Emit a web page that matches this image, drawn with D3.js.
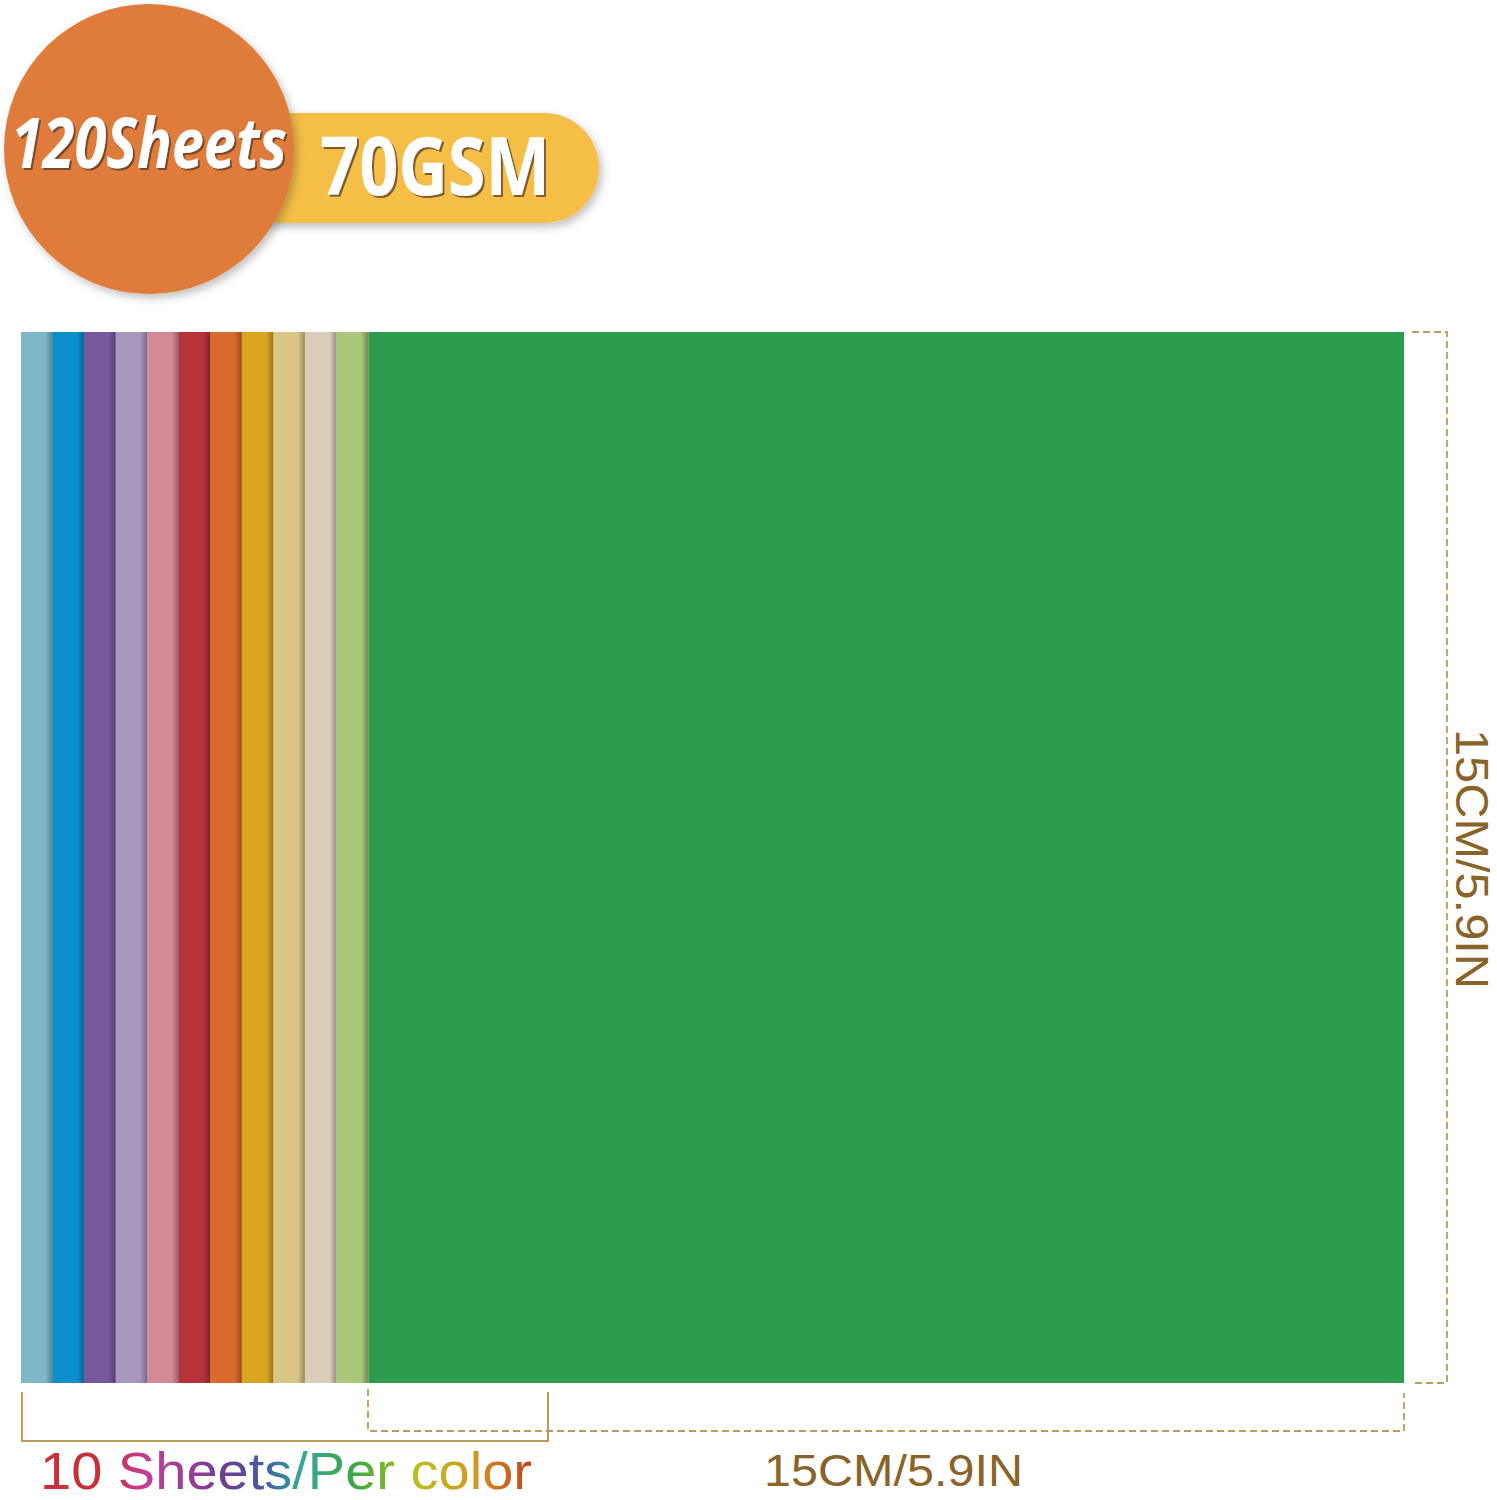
<!DOCTYPE html>
<html lang="en">
<head>
<meta charset="utf-8">
<title>120 Sheets 70GSM</title>
<script src="https://cdn.jsdelivr.net/npm/d3@7"></script>
<style>
  html, body { margin: 0; padding: 0; background: #fff; }
  svg { display: block; }
</style>
</head>
<body>
<div class="chart"></div>
<script>
// sheet colours, back (left) to front (right); the last one is the full sheet
const sheetColors = ["#7fb6c8", "#0a8fcc", "#77589f", "#a698bd", "#d48a95", "#b83339",
                     "#d96b2e", "#d9a523", "#d9c585", "#dbcdb9", "#aac77b", "#2e9c4f"];
const sheetSizeCm = [15, 15];          // width, height
const sizeLabel = "15CM/5.9IN";
const totalLabel = "120Sheets";
const weightLabel = "70GSM";
const perColorLabel = "10 Sheets/Per color";
const perColorStops = ["#c8303a", "#c8303a", "#c43c96", "#6c3f92", "#3f5fa0", "#3aa79b", "#3ca842", "#b9c11f", "#d09a22", "#c4401f"];
const perColorOffsets = [0, 0.12, 0.22, 0.38, 0.46, 0.53, 0.64, 0.76, 0.88, 1];

const W = 1497, H = 1500;
const gold = "#b89c5a", brown = "#8a6329";

const svg = d3.select(".chart").append("svg")
    .attr("width", W)
    .attr("height", H)
    .attr("viewBox", [0, 0, W, H]);

const defs = svg.append("defs");

// soft drop shadow for badge pieces
const soft = defs.append("filter").attr("id", "soft")
    .attr("x", "-20%").attr("y", "-20%").attr("width", "150%").attr("height", "150%");
soft.append("feDropShadow").attr("dx", 3).attr("dy", 4).attr("stdDeviation", 4)
    .attr("flood-color", "#000").attr("flood-opacity", 0.25);

const txtShadow = defs.append("filter").attr("id", "txtShadow")
    .attr("x", "-10%").attr("y", "-20%").attr("width", "130%").attr("height", "150%");
txtShadow.append("feDropShadow").attr("dx", 2).attr("dy", 2).attr("stdDeviation", 0.6)
    .attr("flood-color", "#5a3a20").attr("flood-opacity", 0.75);

// shadow cast by each sheet on the one behind it
const edge = defs.append("linearGradient").attr("id", "edge")
    .attr("x1", 0).attr("x2", 1).attr("y1", 0).attr("y2", 0);
edge.append("stop").attr("offset", 0).attr("stop-color", "#000").attr("stop-opacity", 0);
edge.append("stop").attr("offset", 1).attr("stop-color", "#000").attr("stop-opacity", 0.3);

// rainbow fill for the per-colour label
const rainbow = defs.append("linearGradient").attr("id", "rainbow")
    .attr("gradientUnits", "userSpaceOnUse")
    .attr("x1", 40).attr("x2", 532).attr("y1", 0).attr("y2", 0);
rainbow.selectAll("stop")
    .data(perColorStops)
    .join("stop")
    .attr("offset", (d, i) => perColorOffsets[i])
    .attr("stop-color", d => d);

// ---- sheets ----
const x = d3.scaleLinear().domain([0, sheetSizeCm[0]]).range([368, 1404]);
const y = d3.scaleLinear().domain([0, sheetSizeCm[1]]).range([332, 1383]);

const strips = sheetColors.slice(0, -1);
const band = d3.scaleBand()
    .domain(d3.range(strips.length))
    .range([21, x(0)])
    .padding(0);

const sheets = svg.append("g");

// front sheet
sheets.append("rect")
    .attr("x", x(0))
    .attr("y", y(0))
    .attr("width", x(sheetSizeCm[0]) - x(0))
    .attr("height", y(sheetSizeCm[1]) - y(0))
    .attr("fill", sheetColors[sheetColors.length - 1]);

const strip = sheets.selectAll("g.strip")
    .data(strips)
    .join("g")
    .attr("class", "strip");

strip.append("rect")
    .attr("x", (d, i) => band(i))
    .attr("y", y(0))
    .attr("width", band.bandwidth() + 0.5)
    .attr("height", y(sheetSizeCm[1]) - y(0))
    .attr("fill", d => d);

strip.append("rect")
    .attr("x", (d, i) => band(i) + band.bandwidth() - 7)
    .attr("y", y(0))
    .attr("width", 7)
    .attr("height", y(sheetSizeCm[1]) - y(0))
    .attr("fill", "url(#edge)");

// ---- dimension lines ----
const dims = svg.append("g").attr("fill", "none");

// right: sheet height
dims.append("path")
    .attr("d", `M1412,${y(0)}H1447V${y(sheetSizeCm[1])}H1412`)
    .attr("stroke", gold)
    .attr("stroke-width", 1.8)
    .attr("stroke-dasharray", "7,4");

// bottom: sheet width
dims.append("path")
    .attr("d", `M${x(0)},1389V1431H${x(sheetSizeCm[0])}V1393`)
    .attr("stroke", gold)
    .attr("stroke-width", 1.8)
    .attr("stroke-dasharray", "7,4");

// bottom: the fanned strips
dims.append("path")
    .attr("d", `M22,1392V1441H548V1392`)
    .attr("stroke", gold)
    .attr("stroke-width", 2);

svg.append("text")
    .attr("x", 764)
    .attr("y", 1486)
    .attr("textLength", 259)
    .attr("lengthAdjust", "spacingAndGlyphs")
    .attr("font-family", "Liberation Sans Narrow, Liberation Sans, Arial, sans-serif")
    .attr("font-size", 45)
    .attr("fill", brown)
    .text(sizeLabel);

svg.append("text")
    .attr("transform", "translate(1456,729) rotate(90)")
    .attr("textLength", 260)
    .attr("lengthAdjust", "spacingAndGlyphs")
    .attr("font-family", "Liberation Sans Narrow, Liberation Sans, Arial, sans-serif")
    .attr("font-size", 46)
    .attr("fill", brown)
    .text(sizeLabel);

svg.append("text")
    .attr("x", 40)
    .attr("y", 1489)
    .attr("textLength", 492)
    .attr("lengthAdjust", "spacingAndGlyphs")
    .attr("font-family", "Liberation Sans, Arial, sans-serif")
    .attr("font-size", 52)
    .attr("fill", "url(#rainbow)")
    .text(perColorLabel);

// ---- badge ----
const badge = svg.append("g");

badge.append("rect")
    .attr("x", 200)
    .attr("y", 113)
    .attr("width", 399)
    .attr("height", 110)
    .attr("rx", 55)
    .attr("fill", "#f5be46")
    .attr("filter", "url(#soft)");

badge.append("circle")
    .attr("cx", 149)
    .attr("cy", 149)
    .attr("r", 145)
    .attr("fill", "#e07b3b")
    .attr("filter", "url(#soft)");

badge.append("text")
    .attr("x", 11)
    .attr("y", 168)
    .attr("textLength", 276)
    .attr("lengthAdjust", "spacingAndGlyphs")
    .attr("font-family", "Noto Sans, Open Sans, sans-serif")
    .attr("font-weight", 700)
    .attr("font-style", "italic")
    .attr("font-size", 70)
    .attr("fill", "#fff")
    .attr("filter", "url(#txtShadow)")
    .text(totalLabel);

badge.append("text")
    .attr("x", 320)
    .attr("y", 195)
    .attr("textLength", 230)
    .attr("lengthAdjust", "spacingAndGlyphs")
    .attr("font-family", "Noto Sans, Open Sans, sans-serif")
    .attr("font-weight", 700)
    .attr("font-size", 80)
    .attr("fill", "#fff")
    .attr("filter", "url(#txtShadow)")
    .text(weightLabel);
</script>
</body>
</html>
